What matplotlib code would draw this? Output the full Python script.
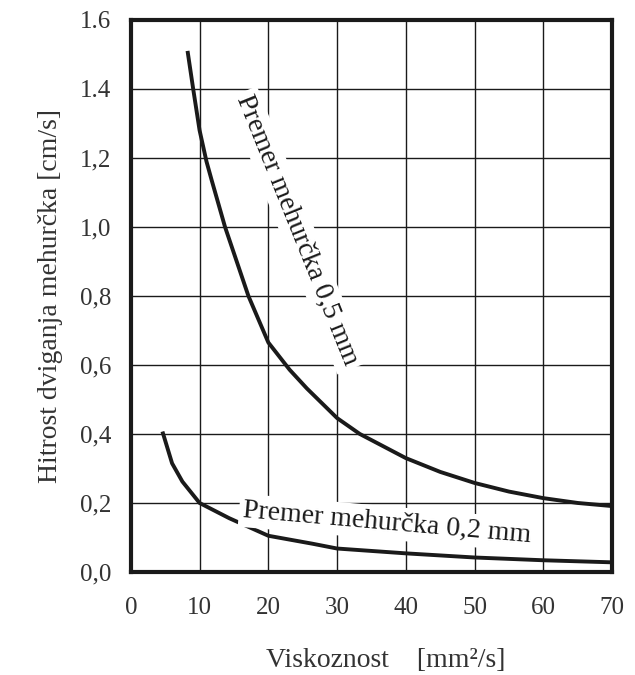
import matplotlib
matplotlib.use('Agg')
import matplotlib.pyplot as plt

# odčitane vrednosti z grafa
visk_05 = [8.25, 9.07, 10, 11.0, 11.75, 13.7, 15.4, 17.1, 20, 23.1, 25.6, 30, 33.3,
           40, 45, 50, 55, 60, 65, 70]
hitr_05 = [1.51, 1.40, 1.28, 1.19, 1.136, 1.00, 0.90, 0.80, 0.665, 0.586, 0.532,
           0.446, 0.40, 0.33, 0.29, 0.258, 0.233, 0.214, 0.20, 0.191]

visk_02 = [4.6, 6.0, 7.5, 10, 14.3, 20, 26.4, 30, 40, 50, 60, 70]
hitr_02 = [0.407, 0.315, 0.262, 0.20, 0.156, 0.105, 0.082, 0.068, 0.054, 0.042,
           0.034, 0.028]

x_ticks = [0, 10, 20, 30, 40, 50, 60, 70]
y_ticks = [0.0, 0.2, 0.4, 0.6, 0.8, 1.0, 1.2, 1.4, 1.6]
y_labels = ['0,0', '0,2', '0,4', '0,6', '0,8', '1,0', '1,2', '1.4', '1.6']

plt.rcParams['font.family'] = ['Liberation Serif', 'DejaVu Serif']

fig = plt.figure(figsize=(6.35, 6.75), dpi=100)
ax = fig.add_axes([0.206, 0.1526, 0.758, 0.818])

for xs, ys in [(visk_05, hitr_05), (visk_02, hitr_02)]:
    ax.plot(xs, ys, color='#1a1a1a', linewidth=2.8, zorder=3,
            solid_joinstyle='round', solid_capstyle='butt')

ax.set_xlim(0, 70)
ax.set_ylim(0, 1.6)
ax.set_xticks(x_ticks)
ax.set_yticks(y_ticks)
ax.set_yticklabels(y_labels)
ax.grid(True, color='#1a1a1a', linewidth=1.0)
ax.tick_params(length=0, labelsize=18, colors='#333333')
ax.tick_params(axis='y', pad=14)
ax.tick_params(axis='x', pad=18)

for s in ax.spines.values():
    s.set_linewidth(3.0)
    s.set_color('#1a1a1a')

# os x: napis postavljen ročno, da ne pade iz slike
fig.text(0.607, 0.012, 'Viskoznost    [mm²/s]', fontsize=20, ha='center',
         va='baseline', color='#333333')
ax.set_ylabel('Hitrost dviganja mehurčka [cm/s]', fontsize=20, labelpad=12, color='#333333')

bb = dict(facecolor='white', edgecolor='none', pad=3)
ax.text(24.2, 0.99, 'Premer mehurčka 0,5 mm', rotation=-68, fontsize=20,
        ha='center', va='center', bbox=bb, zorder=4, color='#1a1a1a')
ax.text(37.3, 0.142, 'Premer mehurčka 0,2 mm', rotation=-5, fontsize=20,
        ha='center', va='center', bbox=bb, zorder=4, color='#1a1a1a')

plt.savefig('out.png', dpi=100)
